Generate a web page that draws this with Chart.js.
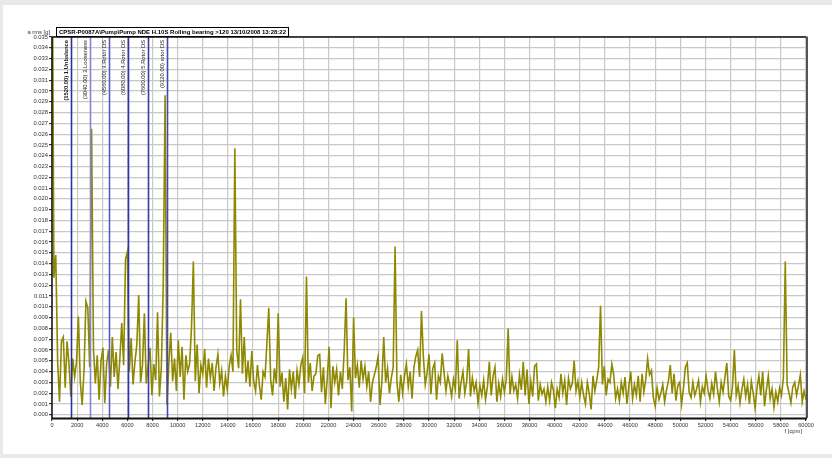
<!DOCTYPE html>
<html>
<head>
<meta charset="utf-8">
<script src="https://cdn.jsdelivr.net/npm/chart.js@4.4.1/dist/chart.umd.min.js"></script>
<style>
    html, body { margin: 0; padding: 0; background: #e9e9e9; }
    #wrap { position: absolute; left: 0; top: 0; width: 832px; height: 458px; }
</style>
</head>
<body>
<div id="wrap"><canvas id="spectrum"></canvas></div>
<script>
// spectrum bins, one every 150 cpm from 0 to 60000
const binWidth = 150;
const amplitude = [
    0.05, 0.0127, 0.0148, 0.0049, 0.0012, 0.0068, 0.0072, 0.0025, 0.0068, 0.0047, 0.0017, 0.0052, 0.0035, 0.0049, 0.0091, 0.0031, 0.0009, 0.0042, 0.0105, 0.0099,
    0.0044, 0.0265, 0.0061, 0.0029, 0.0055, 0.0014, 0.0050, 0.0062, 0.0011, 0.0048, 0.0060, 0.0026, 0.0072, 0.0035, 0.0058, 0.0024, 0.0052, 0.0085, 0.0046, 0.0144,
    0.0151, 0.0040, 0.0071, 0.0028, 0.0049, 0.0065, 0.0111, 0.0030, 0.0046, 0.0094, 0.0029, 0.0046, 0.0062, 0.0018, 0.0047, 0.0032, 0.0095, 0.0017, 0.0044, 0.0119,
    0.0296, 0.0009, 0.0048, 0.0076, 0.0031, 0.0052, 0.0022, 0.0069, 0.0035, 0.0063, 0.0014, 0.0055, 0.0040, 0.0047, 0.0081, 0.0142, 0.0031, 0.0065, 0.0020, 0.0046,
    0.0038, 0.0061, 0.0025, 0.0052, 0.0034, 0.0048, 0.0022, 0.0044, 0.0056, 0.0029, 0.0041, 0.0017, 0.0036, 0.0023, 0.0045, 0.0055, 0.0040, 0.0247, 0.0060, 0.0043,
    0.0107, 0.0038, 0.0072, 0.0030, 0.0050, 0.0026, 0.0059, 0.0031, 0.0022, 0.0046, 0.0028, 0.0014, 0.0040, 0.0035, 0.0066, 0.0099, 0.0033, 0.0018, 0.0043, 0.0029,
    0.0094, 0.0026, 0.0039, 0.0012, 0.0034, 0.0005, 0.0042, 0.0024, 0.0040, 0.0015, 0.0041, 0.0028, 0.0046, 0.0053, 0.0020, 0.0128, 0.0030, 0.0048, 0.0022, 0.0036,
    0.0038, 0.0055, 0.0056, 0.0021, 0.0044, 0.0010, 0.0033, 0.0063, 0.0006, 0.0045, 0.0030, 0.0042, 0.0018, 0.0040, 0.0024, 0.0059, 0.0108, 0.0032, 0.0044, 0.0003,
    0.0090, 0.0034, 0.0046, 0.0025, 0.0050, 0.0033, 0.0045, 0.0026, 0.0040, 0.0012, 0.0030, 0.0037, 0.0044, 0.0054, 0.0009, 0.0031, 0.0072, 0.0030, 0.0043, 0.0020,
    0.0034, 0.0044, 0.0156, 0.0030, 0.0012, 0.0037, 0.0020, 0.0036, 0.0047, 0.0026, 0.0040, 0.0015, 0.0044, 0.0054, 0.0060, 0.0035, 0.0096, 0.0054, 0.0028, 0.0039,
    0.0056, 0.0019, 0.0043, 0.0048, 0.0014, 0.0036, 0.0030, 0.0057, 0.0039, 0.0022, 0.0036, 0.0028, 0.0017, 0.0033, 0.0024, 0.0069, 0.0015, 0.0030, 0.0040, 0.0020,
    0.0031, 0.0061, 0.0017, 0.0034, 0.0022, 0.0030, 0.0011, 0.0027, 0.0018, 0.0032, 0.0014, 0.0026, 0.0049, 0.0018, 0.0036, 0.0044, 0.0012, 0.0029, 0.0017, 0.0033,
    0.0021, 0.0033, 0.0080, 0.0019, 0.0035, 0.0022, 0.0028, 0.0015, 0.0037, 0.0023, 0.0049, 0.0018, 0.0042, 0.0010, 0.0031, 0.0017, 0.0045, 0.0047, 0.0013, 0.0028,
    0.0019, 0.0024, 0.0012, 0.0026, 0.0013, 0.0030, 0.0023, 0.0006, 0.0024, 0.0016, 0.0038, 0.0020, 0.0032, 0.0009, 0.0034, 0.0024, 0.0029, 0.0050, 0.0022, 0.0031,
    0.0016, 0.0030, 0.0018, 0.0010, 0.0030, 0.0020, 0.0005, 0.0036, 0.0022, 0.0032, 0.0044, 0.0101, 0.0028, 0.0045, 0.0018, 0.0033, 0.0030, 0.0047, 0.0037, 0.0015,
    0.0024, 0.0013, 0.0030, 0.0020, 0.0035, 0.0010, 0.0026, 0.0040, 0.0015, 0.0028, 0.0018, 0.0036, 0.0012, 0.0038, 0.0021, 0.0033, 0.0052, 0.0037, 0.0041, 0.0016,
    0.0008, 0.0025, 0.0014, 0.0020, 0.0028, 0.0012, 0.0023, 0.0031, 0.0046, 0.0020, 0.0038, 0.0013, 0.0027, 0.0030, 0.0010, 0.0025, 0.0044, 0.0048, 0.0021, 0.0016,
    0.0030, 0.0018, 0.0024, 0.0032, 0.0012, 0.0026, 0.0020, 0.0036, 0.0023, 0.0015, 0.0029, 0.0019, 0.0040, 0.0024, 0.0012, 0.0030, 0.0021, 0.0035, 0.0048, 0.0017,
    0.0013, 0.0026, 0.0060, 0.0018, 0.0027, 0.0011, 0.0024, 0.0033, 0.0017, 0.0028, 0.0010, 0.0031, 0.0020, 0.0006, 0.0025, 0.0036, 0.0018, 0.0040, 0.0008, 0.0023,
    0.0036, 0.0015, 0.0024, 0.0007, 0.0021, 0.0012, 0.0025, 0.0018, 0.0034, 0.0142, 0.0028, 0.0020, 0.0011, 0.0026, 0.0030, 0.0018, 0.0027, 0.0037, 0.0012, 0.0022,
    0.0014
];

const xTicks = [0, 2000, 4000, 6000, 8000, 10000, 12000, 14000, 16000, 18000, 20000, 22000, 24000, 26000, 28000, 30000,
    32000, 34000, 36000, 38000, 40000, 42000, 44000, 46000, 48000, 50000, 52000, 54000, 56000, 58000, 60000];
const yTicks = [0, 0.001, 0.002, 0.003, 0.004, 0.005, 0.006, 0.007, 0.008, 0.009, 0.010, 0.011, 0.012, 0.013, 0.014, 0.015, 0.016, 0.017,
    0.018, 0.019, 0.020, 0.021, 0.022, 0.023, 0.024, 0.025, 0.026, 0.027, 0.028, 0.029, 0.030, 0.031, 0.032, 0.033, 0.034, 0.035];

// fault frequency markers
const markerFreqs = [1520, 3040, 4560, 6080, 7600, 9120];
const markerLabels = ['(1520.00) 1.Unbalance', '(3040.00) 2.Looseness', '(4560.00) 3.Rotor DS',
    '(6080.00) 4.Rotor DS', '(7600.00) 5.Rotor DS', '(9120.00) rotor DS'];
const markerColors = ['#2e2e9c', '#8484d2', '#5a5ac0', '#3434aa', '#3a3aa6', '#4646b4'];

const titleText = 'CPSR-P0087A\\Pump\\Pump NDE H.10S Rolling bearing >120 13/10/2008 13:28:22';
const yTitle = 'a rms [g]';
const xTitle = 'f [cpm]';

const points = amplitude.map((a, i) => ({ x: i * binWidth, y: a }));

const decorations = {
    id: 'decorations',
    beforeDraw(chart) {
        const ctx = chart.ctx;
        ctx.save();
        ctx.fillStyle = '#e9e9e9';
        ctx.fillRect(0, 0, chart.width, chart.height);
        ctx.fillStyle = '#ffffff';
        ctx.fillRect(3, 5, chart.width - 3, 449);
        ctx.restore();
    },
    afterDatasetsDraw(chart) {
        const ctx = chart.ctx;
        const area = chart.chartArea;
        const xs = chart.scales.x;
        ctx.save();

        // marker lines + rotated labels
        markerFreqs.forEach((f, i) => {
            const px = Math.round(xs.getPixelForValue(f)) + 0.5;
            ctx.strokeStyle = markerColors[i];
            ctx.lineWidth = 1.6;
            ctx.beginPath();
            ctx.moveTo(px, area.top);
            ctx.lineTo(px, area.bottom);
            ctx.stroke();

            ctx.save();
            ctx.translate(px - 5.5, area.top + 3);
            ctx.rotate(-Math.PI / 2);
            ctx.fillStyle = '#222';
            ctx.font = (i === 0 ? 'bold ' : '') + '5.8px Arial, "Liberation Sans", sans-serif';
            ctx.textAlign = 'right';
            ctx.textBaseline = 'middle';
            ctx.fillText(markerLabels[i], 0, 0);
            ctx.restore();
        });

        // plot frame
        ctx.lineWidth = 1.5;
        ctx.strokeStyle = '#111';
        ctx.beginPath();
        ctx.moveTo(area.left, area.top);
        ctx.lineTo(area.right, area.top);
        ctx.moveTo(area.left, area.top);
        ctx.lineTo(area.left, area.bottom);
        ctx.stroke();
        ctx.lineWidth = 2;
        ctx.beginPath();
        ctx.moveTo(area.left, area.bottom + 0.5);
        ctx.lineTo(area.right + 1, area.bottom + 0.5);
        ctx.stroke();
        ctx.strokeStyle = '#555';
        ctx.beginPath();
        ctx.moveTo(area.right + 1, area.top - 0.5);
        ctx.lineTo(area.right + 1, area.bottom);
        ctx.stroke();

        // title box
        ctx.font = 'bold 6.2px Arial, "Liberation Sans", sans-serif';
        ctx.textBaseline = 'middle';
        ctx.textAlign = 'left';
        ctx.fillStyle = '#ffffff';
        ctx.fillRect(56, 28, 232, 8);
        ctx.lineWidth = 1;
        ctx.strokeStyle = '#000';
        ctx.strokeRect(56.5, 27.5, 232, 9);
        ctx.fillStyle = '#000';
        ctx.fillText(titleText, 59, 32.3, 227);

        // axis titles
        ctx.font = '5.8px Arial, "Liberation Sans", sans-serif';
        ctx.fillStyle = '#333';
        ctx.textAlign = 'right';
        ctx.fillText(yTitle, 50, 32.5);
        ctx.fillText(xTitle, area.right - 4, 431);
        ctx.restore();
    }
};

new Chart(document.getElementById('spectrum'), {
    type: 'line',
    data: {
        datasets: [{
            data: points,
            borderColor: '#8e8900',
            borderWidth: 1.6,
            pointRadius: 0,
            tension: 0,
            fill: false
        }]
    },
    options: {
        responsive: true,
        maintainAspectRatio: false,
        animation: false,
        events: [],
        layout: { padding: { left: 0, right: 26, top: 37, bottom: 26 } },
        plugins: {
            legend: { display: false },
            tooltip: { enabled: false }
        },
        scales: {
            x: {
                type: 'linear',
                min: 0,
                max: 60000,
                afterBuildTicks: axis => { axis.ticks = xTicks.map(v => ({ value: v })); },
                afterFit: axis => { axis.height = 14; },
                grid: { color: '#c8c8c8', lineWidth: 1.2, tickLength: 3, tickColor: '#333' },
                border: { display: false },
                ticks: {
                    maxRotation: 0,
                    autoSkip: false,
                    padding: 1.5,
                    color: '#333',
                    font: { family: 'Arial, "Liberation Sans", sans-serif', size: 5.6 },
                    callback: v => String(v)
                }
            },
            y: {
                type: 'linear',
                min: -0.0003,
                max: 0.035,
                afterBuildTicks: axis => { axis.ticks = yTicks.map(v => ({ value: v })); },
                afterFit: axis => { axis.width = 52; },
                grid: { color: '#c8c8c8', lineWidth: 1.2, tickLength: 3, tickColor: '#333' },
                border: { display: false },
                ticks: {
                    autoSkip: false,
                    padding: 1,
                    color: '#333',
                    font: { family: 'Arial, "Liberation Sans", sans-serif', size: 5.8 },
                    callback: v => v.toFixed(3)
                }
            }
        }
    },
    plugins: [decorations]
});
</script>
</body>
</html>
